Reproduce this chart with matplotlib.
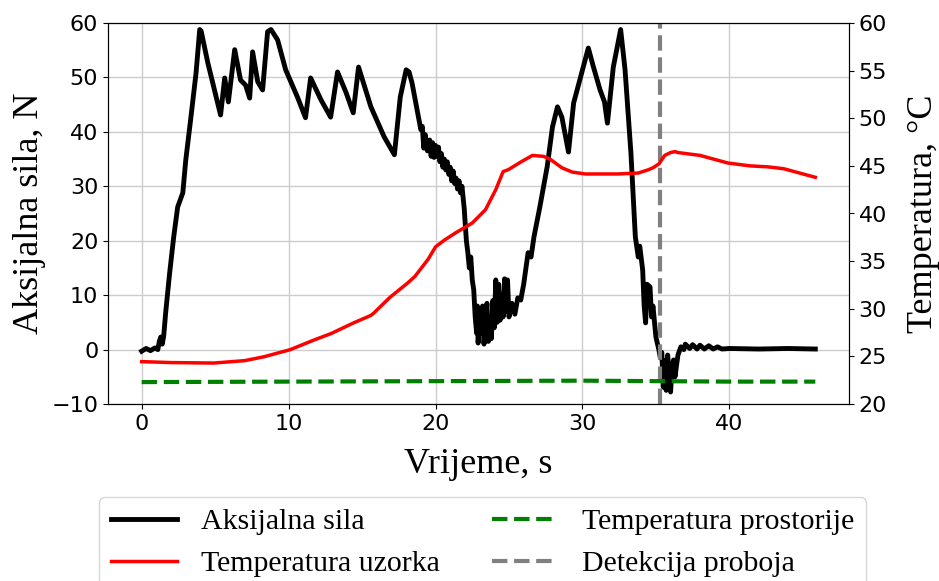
import matplotlib
matplotlib.use('Agg')
import matplotlib.pyplot as plt

# force (t in s, F in N)
t_force = [0.0, 0.3, 0.6, 0.9, 1.1, 1.2, 1.3, 1.4, 1.5, 1.63, 1.9, 2.18, 2.45,
           2.8, 3.0, 3.33, 3.7, 3.95, 4.05, 4.5, 4.9, 5.37, 5.65, 5.9, 6.33,
           6.73, 7.07, 7.35, 7.55, 7.9, 8.23, 8.57, 8.8, 9.25, 9.8, 10.6,
           11.15, 11.5, 12.2, 12.86, 13.33, 13.9, 14.4, 14.76, 15.6, 16.5,
           17.2, 17.6, 18.0, 18.2, 18.4, 19.0, 19.1, 19.2, 19.3, 19.45, 19.6,
           19.7, 19.8, 19.9, 20.0, 20.1, 20.2, 20.3, 20.4, 20.5, 20.6, 20.7,
           20.8, 20.9, 21.0, 21.1, 21.2, 21.3, 21.4, 21.5, 21.6,
           21.7, 21.8, 21.95, 22.0, 22.1, 22.2, 22.3, 22.4, 22.5, 22.6, 22.7,
           22.8, 22.85, 22.9, 23.0, 23.1, 23.2, 23.3, 23.4, 23.5, 23.6, 23.7,
           23.8, 23.9, 24.0, 24.1, 24.2, 24.3, 24.4, 24.5, 24.6, 24.7, 24.8,
           24.9, 25.0, 25.2, 25.4, 25.6, 25.8, 26.0, 26.3, 26.5, 26.7, 27.1,
           27.6, 27.96, 28.3, 28.6, 29.05, 29.4, 30.0, 30.4, 30.75, 31.2,
           31.5, 31.7, 32.1, 32.6, 32.9, 33.3, 33.6, 33.8, 33.9, 34.1, 34.2,
           34.3, 34.4, 34.6, 34.7, 34.8, 35.0, 35.2, 35.3, 35.4, 35.5, 35.6,
           35.7, 35.8, 36.0, 36.1, 36.2, 36.3, 36.5, 36.7, 36.9, 37.0, 37.3,
           37.5, 37.8, 38.0, 38.3, 38.6, 38.9, 39.2, 39.5, 40.0, 42.0, 44.0,
           45.85]
force = [-0.3, 0.2, -0.2, 0.3, 0.0, 1.5, 2.3, 1.0, 2.5, 6.7, 14.0, 20.7, 26.2,
         28.8, 34.8, 42.2, 50.8, 58.8, 58.5, 52.7, 48.3, 43.1, 49.9, 45.5, 55.1,
         49.5, 48.6, 46.2, 54.7, 49.2, 47.7, 58.4, 58.8, 56.9, 51.4, 46.4,
         42.6, 49.9, 45.9, 42.7, 51.0, 47.3, 43.5, 51.9, 44.6, 39.1,
         35.8, 46.4, 51.4, 51.0, 49.0, 40.4, 41.0, 37.0, 39.5, 36.5, 38.5,
         35.5, 38.0, 35.3, 37.5, 35.5, 37.2, 34.5, 36.0, 33.5, 35.0, 33.0,
         34.5, 32.2, 33.5, 31.0, 32.8, 30.5, 31.5, 29.5, 31.0,
         28.8, 30.0, 26.0, 24.0, 20.0, 17.8, 15.0, 17.0, 12.8, 11.0, 6.0,
         3.0, 8.0, 1.2, 7.0, 3.0, 8.0, 1.0, 6.0, 8.5, 1.5, 6.0,
         2.0, 9.0, 4.0, 12.8, 5.0, 12.0, 5.4, 10.0, 6.0, 13.0, 7.0,
         12.8, 6.0, 8.5, 6.5, 9.5, 9.1, 12.0, 17.8, 17.0, 20.7, 26.2,
         33.6, 40.9, 44.6, 42.7, 36.3, 45.3, 51.4, 55.4, 51.9, 47.7,
         45.5, 41.6, 51.9, 58.8, 51.4, 36.1, 20.7, 17.0, 19.0, 14.6, 8.0,
         4.9, 12.0, 11.5, 6.0, 8.0, 2.3, 0.0, -1.5, -0.5, -6.9, -2.0,
         -7.5, -1.0, -7.8, -3.0, -1.9, -5.0, -1.0, 0.5, 0.0, 1.0, 0.2,
         0.9, 0.1, 0.8, 0.1, 0.7, 0.1, 0.5, 0.1, 0.2, 0.1, 0.2,
         0.1]

# sample temperature (°C)
t_temp = [0, 2, 4.9, 7, 8.3, 10.1, 11.7, 12.9, 14.4, 15.6, 15.8, 16.9, 18.1,
          18.6, 19.1, 19.5, 20.0, 20.6, 21.4, 22.5, 23.4, 24.1, 24.6, 24.95,
          25.8, 26.6, 27.35, 27.8, 28.6, 29.3, 30.2, 32.4, 33.8, 34.5, 34.8,
          35.2, 35.6, 36.0, 36.3, 36.5, 38.0, 39.9, 41.4, 42.6, 43.7, 45.85]
temp = [24.45, 24.35, 24.3, 24.55, 24.95, 25.7, 26.7, 27.4, 28.5, 29.3, 29.55,
        31.2, 32.7, 33.4, 34.4, 35.2, 36.5, 37.2, 38.0, 39.0, 40.4, 42.5, 44.4,
        44.6, 45.4, 46.1, 46.0, 45.7, 44.8, 44.35, 44.15, 44.15, 44.25, 44.6,
        44.8, 45.2, 46.1, 46.4, 46.5, 46.4, 46.1, 45.3, 45.0, 44.9, 44.7, 43.8]

# room temperature (°C)
t_room = [0, 10, 20, 30, 40, 45.85]
room = [22.3, 22.35, 22.4, 22.45, 22.35, 22.35]

t_break = 35.3

serif = ['Liberation Serif', 'DejaVu Serif']

fig = plt.figure(figsize=(9.39, 5.81), dpi=100)
ax = fig.add_axes([108/939, 1-404/581, (849-108)/939, (404-23)/581])

l1, = ax.plot(t_force, force, color='black', lw=3.5, label='Aksijalna sila')
l4 = ax.axvline(t_break, color='gray', ls='--', lw=3, label='Detekcija proboja')
ax.set_ylim(-10, 60)
ax.grid(True, color='#cccccc', lw=1)
ax.set_axisbelow(True)
ax.tick_params(labelsize=16)
ax.set_xlabel('Vrijeme, s', fontsize=26, family=serif, labelpad=10)
ax.set_ylabel('Aksijalna sila, N', fontsize=26, family=serif)

ax2 = ax.twinx()
l2, = ax2.plot(t_temp, temp, color='red', lw=2.5, label='Temperatura uzorka')
l3, = ax2.plot(t_room, room, color='green', ls='--', lw=3,
               label='Temperatura prostorije')
ax2.set_ylim(20, 60)
ax2.tick_params(labelsize=16)
ax2.set_ylabel('Temperatura, °C', fontsize=26, family=serif, labelpad=14)

fig.legend(handles=[l1, l2, l3, l4], loc='upper center',
           bbox_to_anchor=(0.514, 0.171), ncol=2, handlelength=2.2,
           prop={'family': serif, 'size': 21.5}, columnspacing=1.75)

fig.savefig('out.png', dpi=100)
